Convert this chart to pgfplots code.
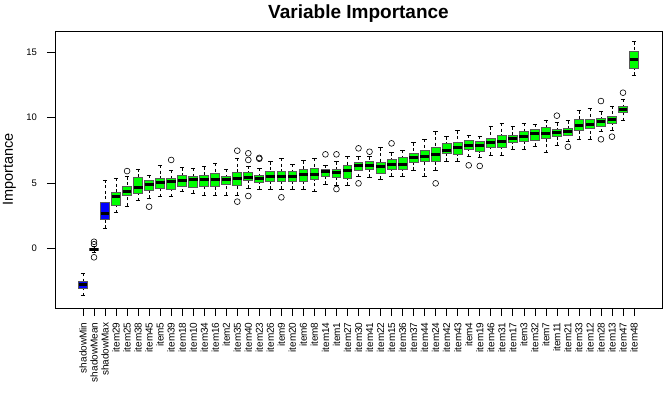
\documentclass[border=0pt]{standalone}
\usepackage{fontspec}
\setmainfont{Liberation Sans}
\usepackage{pgfplots}
\pgfplotsset{compat=1.18}
\usepgfplotslibrary{statistics}

\pgfplotsset{
  % dashed whisker with a solid staple, as in base R boxplots
  boxplot/draw/lower whisker/.code={%
    \draw[black, line width=0.6pt, dash pattern=on 3pt off 2.5pt, fill=none]
      (boxplot cs:\pgfplotsboxplotvalue{lower whisker}) --
      (boxplot cs:\pgfplotsboxplotvalue{lower quartile});
    \draw[black, line width=0.7pt, solid, fill=none]
      (boxplot whisker cs:\pgfplotsboxplotvalue{lower whisker},0) --
      (boxplot whisker cs:\pgfplotsboxplotvalue{lower whisker},1);
  },
  boxplot/draw/upper whisker/.code={%
    \draw[black, line width=0.6pt, dash pattern=on 3pt off 2.5pt, fill=none]
      (boxplot cs:\pgfplotsboxplotvalue{upper whisker}) --
      (boxplot cs:\pgfplotsboxplotvalue{upper quartile});
    \draw[black, line width=0.7pt, solid, fill=none]
      (boxplot whisker cs:\pgfplotsboxplotvalue{upper whisker},0) --
      (boxplot whisker cs:\pgfplotsboxplotvalue{upper whisker},1);
  },
  imp/.style={draw=black!65, line width=0.9pt, fill=green,
    mark=o, mark size=2.9pt,
    mark options={draw=black, fill=none, solid, line width=0.6pt}},
  shadow/.style={imp, fill=blue},
}

% draw position, lower whisker, lower quartile, median, upper quartile, upper whisker, style
\newcommand{\bp}[7]{\addplot[#7, boxplot prepared={draw position=#1,
  lower whisker=#2, lower quartile=#3, median=#4,
  upper quartile=#5, upper whisker=#6}]}

\begin{document}
\begin{tikzpicture}
\begin{axis}[
  at={(0pt,0pt)}, anchor=south west,
  scale only axis, width=607pt, height=277pt,
  xmin=-2.54, xmax=52.54, ymin=-4.57, ymax=16.63,
  xtick={0,...,50},
  xticklabels={shadowMin,shadowMean,shadowMax,item29,item25,item38,item45,item5,
    item39,item18,item10,item34,item16,item2,item35,item40,item23,item26,item9,
    item20,item6,item8,item14,item1,item27,item30,item41,item22,item15,item36,
    item37,item44,item24,item42,item43,item4,item19,item46,item31,item17,item3,
    item32,item7,item11,item21,item33,item12,item28,item13,item47,item48},
  ytick={0,5,10,15},
  /pgf/number format/assume math mode=true,
  tick align=outside, xtick pos=bottom, ytick pos=left,
  major tick length=8pt,
  tick style={black, line width=0.6pt},
  axis line style={black, line width=0.8pt},
  xticklabel style={font=\fontsize{10}{11}\selectfont, yshift=-3pt, rotate=90, anchor=east},
  yticklabel style={font=\fontsize{9.5}{10}\selectfont, xshift=-6.5pt},
  title={Variable Importance},
  title style={font=\bfseries\fontsize{19}{22}\selectfont,
    at={(axis description cs:0.5,1.025)}, anchor=base, inner sep=0pt},
  ylabel={Importance},
  ylabel style={font=\fontsize{14.5}{16}\selectfont,
    at={(axis description cs:-0.075,0.5)}, anchor=center},
  boxplot/draw direction=y,
  boxplot/box extend=0.8,
  boxplot/whisker extend=0.4,
  boxplot/every median/.style={black, line width=3pt},
]
\bp{0}{-3.63}{-3.06}{-2.75}{-2.56}{-1.91}{shadow} coordinates {};
\bp{1}{-0.30}{-0.18}{-0.09}{0.00}{0.15}{shadow} coordinates {(1,0.50) (1,0.31) (1,-0.69)};
\bp{2}{1.53}{2.22}{2.68}{3.49}{5.23}{shadow} coordinates {};
\bp{3}{2.72}{3.31}{3.95}{4.28}{5.36}{imp} coordinates {};
\bp{4}{3.24}{4.08}{4.38}{4.71}{5.48}{imp} coordinates {(4,5.91)};
\bp{5}{3.64}{4.21}{4.67}{5.40}{6.07}{imp} coordinates {};
\bp{6}{3.83}{4.41}{4.92}{5.17}{5.61}{imp} coordinates {(6,3.18)};
\bp{7}{3.95}{4.59}{5.05}{5.36}{6.37}{imp} coordinates {};
\bp{8}{3.95}{4.51}{5.10}{5.36}{5.99}{imp} coordinates {(8,6.76)};
\bp{9}{4.33}{4.77}{5.17}{5.61}{6.17}{imp} coordinates {};
\bp{10}{4.21}{4.67}{5.28}{5.48}{6.12}{imp} coordinates {};
\bp{11}{4.08}{4.77}{5.23}{5.61}{6.24}{imp} coordinates {};
\bp{12}{4.06}{4.71}{5.23}{5.74}{6.50}{imp} coordinates {};
\bp{13}{4.08}{4.90}{5.23}{5.53}{6.04}{imp} coordinates {};
\bp{14}{4.08}{4.84}{5.36}{5.78}{6.89}{imp} coordinates {(14,7.47) (14,3.57)};
\bp{15}{4.59}{5.17}{5.43}{5.78}{6.30}{imp} coordinates {(15,7.27) (15,6.76) (15,4.00)};
\bp{16}{4.51}{5.02}{5.36}{5.61}{6.12}{imp} coordinates {(16,6.85) (16,6.92)};
\bp{17}{4.51}{5.10}{5.48}{5.86}{6.63}{imp} coordinates {};
\bp{18}{4.51}{5.10}{5.48}{5.86}{6.89}{imp} coordinates {(18,3.90)};
\bp{19}{4.51}{5.10}{5.48}{5.91}{6.45}{imp} coordinates {};
\bp{20}{4.51}{5.10}{5.61}{6.04}{6.70}{imp} coordinates {};
\bp{21}{4.33}{5.23}{5.68}{6.12}{6.89}{imp} coordinates {};
\bp{22}{4.90}{5.53}{5.86}{6.04}{6.37}{imp} coordinates {(22,7.19)};
\bp{23}{4.84}{5.43}{5.78}{6.04}{6.63}{imp} coordinates {(23,7.19) (23,4.53)};
\bp{24}{4.84}{5.36}{5.99}{6.37}{7.06}{imp} coordinates {};
\bp{25}{5.48}{5.99}{6.30}{6.55}{7.01}{imp} coordinates {(25,7.65) (25,4.97)};
\bp{26}{5.43}{6.04}{6.30}{6.63}{7.01}{imp} coordinates {(26,7.39)};
\bp{27}{5.28}{5.74}{6.24}{6.55}{7.70}{imp} coordinates {};
\bp{28}{5.53}{6.04}{6.45}{6.81}{7.31}{imp} coordinates {(28,8.03)};
\bp{29}{5.53}{6.04}{6.45}{6.93}{7.52}{imp} coordinates {};
\bp{30}{5.99}{6.55}{6.96}{7.27}{8.08}{imp} coordinates {};
\bp{31}{5.53}{6.63}{7.01}{7.52}{8.34}{imp} coordinates {};
\bp{32}{5.99}{6.63}{7.14}{7.70}{8.92}{imp} coordinates {(32,4.97)};
\bp{33}{6.68}{7.27}{7.52}{8.03}{8.54}{imp} coordinates {};
\bp{34}{6.68}{7.19}{7.73}{8.08}{9.00}{imp} coordinates {};
\bp{35}{7.01}{7.57}{7.90}{8.23}{8.67}{imp} coordinates {(35,6.35)};
\bp{36}{6.96}{7.39}{7.90}{8.16}{8.59}{imp} coordinates {(36,6.30)};
\bp{37}{7.14}{7.73}{8.08}{8.42}{9.30}{imp} coordinates {};
\bp{38}{7.14}{7.73}{8.16}{8.67}{9.56}{imp} coordinates {};
\bp{39}{7.57}{8.08}{8.42}{8.67}{9.30}{imp} coordinates {};
\bp{40}{7.57}{8.16}{8.59}{8.97}{9.56}{imp} coordinates {};
\bp{41}{7.83}{8.23}{8.80}{9.10}{9.49}{imp} coordinates {};
\bp{42}{7.31}{8.42}{8.75}{9.26}{9.82}{imp} coordinates {};
\bp{43}{7.90}{8.59}{8.85}{9.10}{9.61}{imp} coordinates {(43,10.15)};
\bp{44}{8.16}{8.67}{8.97}{9.18}{9.76}{imp} coordinates {(44,7.77)};
\bp{45}{8.34}{9.05}{9.43}{9.87}{10.53}{imp} coordinates {};
\bp{46}{8.34}{9.18}{9.51}{9.87}{10.71}{imp} coordinates {};
\bp{47}{8.92}{9.30}{9.69}{9.95}{10.45}{imp} coordinates {(47,11.27) (47,8.34)};
\bp{48}{9.05}{9.56}{9.87}{10.12}{10.89}{imp} coordinates {(48,8.54)};
\bp{49}{9.76}{10.38}{10.66}{10.89}{11.40}{imp} coordinates {(49,11.91)};
\bp{50}{13.26}{13.77}{14.46}{15.04}{15.81}{imp} coordinates {};
\end{axis}
\pgfresetboundingbox
\path (-55pt,-87pt) rectangle (614pt,308pt);
\end{tikzpicture}
\end{document}
